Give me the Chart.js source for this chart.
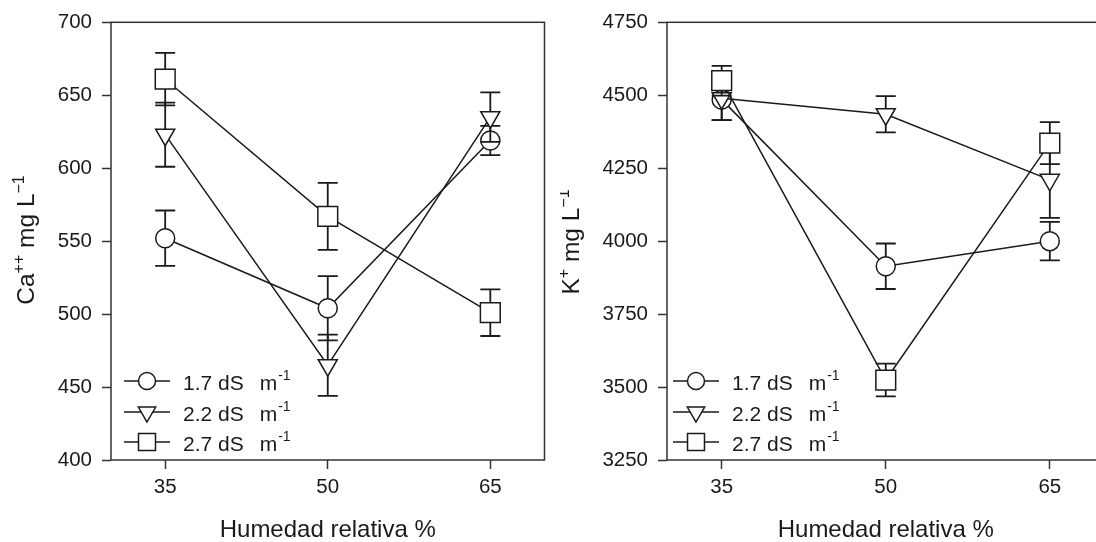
<!DOCTYPE html>
<html>
<head>
<meta charset="utf-8">
<script src="https://cdn.jsdelivr.net/npm/chart.js@4"></script>
<style>
  html, body { margin: 0; padding: 0; background: #fff; overflow: hidden; }
  #wrap { position: relative; width: 1096px; height: 542px; overflow: hidden; }
  canvas { position: absolute; top: 0; }
</style>
</head>
<body>
<div id="wrap">
  <canvas id="ca" width="560" height="542" style="left:0"></canvas>
  <canvas id="k" width="560" height="542" style="left:560px"></canvas>
</div>
<script>
// humedad relativa (%)
const humedad = [35, 50, 65];
const xTicks = [35, 50, 65];
const conductividad = ['1.7', '2.2', '2.7'];

// Ca++ mg/L
const ca17 = [552, 504, 619];
const ca22 = [623, 465, 635];
const ca27 = [661, 567, 501];
const ca17Err = [19, 22, 10];
const ca22Err = [22, 21, 17];
const ca27Err = [18, 23, 16];

// K+ mg/L
const k17 = [4485, 3914, 4000];
const k22 = [4490, 4435, 4210];
const k27 = [4550, 3524, 4336];
const k17Err = [70, 78, 66];
const k22Err = [75, 62, 130];
const k27Err = [51, 56, 72];

const FONT = '"Liberation Sans", Arial, sans-serif';
const INK = '#1a1a1a';
Chart.defaults.font.family = FONT;
Chart.defaults.color = INK;

const simbolos = [
    { pointStyle: 'circle', rotation: 0, radius: 9.5, legendRadius: 8.5 },
    { pointStyle: 'triangle', rotation: 180, radius: 11, legendRadius: 10 },
    { pointStyle: 'rect', rotation: 0, radius: 14, legendRadius: 12 }
];

function serie(valores, errores, i) {
    const s = simbolos[i];
    return {
        label: conductividad[i] + ' dS m-1',
        data: valores.map((v, j) => ({ x: humedad[j], y: v })),
        errores: errores,
        order: 3 - i,
        borderColor: INK,
        borderWidth: 1.5,
        backgroundColor: '#fff',
        pointStyle: s.pointStyle,
        rotation: s.rotation,
        pointRadius: s.radius,
        pointHoverRadius: s.radius,
        pointBorderWidth: 1.5,
        pointBorderColor: INK,
        pointBackgroundColor: '#fff',
        tension: 0,
        fill: false
    };
}

const errorBars = {
    id: 'errorBars',
    beforeDatasetDraw(chart, args) {
        const ds = chart.data.datasets[args.index];
        if (!ds.errores) return;
        const ctx = chart.ctx;
        const sx = chart.scales.x, sy = chart.scales.y;
        ctx.save();
        ctx.strokeStyle = INK;
        ctx.lineWidth = 1.8;
        ds.data.forEach((p, i) => {
            const e = ds.errores[i];
            const x = sx.getPixelForValue(p.x);
            const yt = sy.getPixelForValue(p.y + e);
            const yb = sy.getPixelForValue(p.y - e);
            ctx.beginPath();
            ctx.moveTo(x, yt); ctx.lineTo(x, yb);
            ctx.moveTo(x - 10, yt); ctx.lineTo(x + 10, yt);
            ctx.moveTo(x - 10, yb); ctx.lineTo(x + 10, yb);
            ctx.stroke();
        });
        ctx.restore();
    }
};

// marco, leyenda y titulo del eje y
function decorado(cfg) {
    return {
        id: 'decorado',
        afterDraw(chart) {
            const ctx = chart.ctx;
            const a = chart.chartArea;
            ctx.save();
            ctx.strokeStyle = '#333';
            ctx.lineWidth = 1.5;
            ctx.strokeRect(a.left, a.top, a.right - a.left, a.bottom - a.top);

            // leyenda
            const filas = [381, 412, 442];
            filas.forEach((y, i) => {
                ctx.strokeStyle = INK;
                ctx.lineWidth = 1.5;
                ctx.beginPath();
                ctx.moveTo(cfg.legX, y);
                ctx.lineTo(cfg.legX + 46, y);
                ctx.stroke();
                ctx.fillStyle = '#fff';
                Chart.helpers.drawPoint(ctx, {
                    pointStyle: simbolos[i].pointStyle,
                    rotation: simbolos[i].rotation,
                    radius: simbolos[i].legendRadius,
                    borderWidth: 1.5
                }, cfg.legX + 23, y);
                ctx.fillStyle = INK;
                ctx.textBaseline = 'alphabetic';
                ctx.textAlign = 'left';
                ctx.font = '21px ' + FONT;
                const tx = cfg.legX + 59;
                const base = y + 9;
                const t1 = conductividad[i] + ' dS';
                ctx.fillText(t1, tx, base);
                const mx = tx + ctx.measureText(t1).width + 16;
                ctx.fillText('m', mx, base);
                const sx = mx + ctx.measureText('m').width + 1;
                ctx.font = '14px ' + FONT;
                ctx.fillText('-1', sx, base - 10);
            });

            // titulo eje y con superindices
            ctx.translate(cfg.titX, cfg.titY);
            ctx.rotate(-Math.PI / 2);
            const partes = cfg.titulo;
            let ancho = 0;
            partes.forEach(p => {
                ctx.font = (p.sup ? '16px ' : '24.5px ') + FONT;
                ancho += ctx.measureText(p.t).width;
            });
            let x = -ancho / 2;
            ctx.fillStyle = INK;
            ctx.textAlign = 'left';
            ctx.textBaseline = 'alphabetic';
            partes.forEach(p => {
                ctx.font = (p.sup ? '16px ' : '24.5px ') + FONT;
                ctx.fillText(p.t, x, p.sup ? -10 : 0);
                x += ctx.measureText(p.t).width;
            });
            ctx.restore();
        }
    };
}

function opciones(yMin, yMax, yStep, yWidth, padRight) {
    return {
        responsive: false,
        animation: false,
        events: [],
        layout: { padding: { top: 21, right: padRight, bottom: 0, left: 0 } },
        plugins: { legend: { display: false }, tooltip: { enabled: false } },
        scales: {
            x: {
                type: 'linear',
                min: 30,
                max: 70,
                afterBuildTicks: axis => { axis.ticks = xTicks.map(v => ({ value: v })); },
                afterFit: axis => { axis.height = 82; },
                grid: { drawOnChartArea: false, drawTicks: true, tickLength: 9, tickWidth: 1.5, color: '#333' },
                border: { display: false },
                ticks: { font: { size: 20.5 }, padding: 6, color: INK, callback: v => String(v) },
                title: { display: true, text: 'Humedad relativa %', font: { size: 24, lineHeight: 1 }, padding: { top: 0, bottom: 0 }, color: INK }
            },
            y: {
                min: yMin,
                max: yMax,
                afterFit: axis => { axis.width = yWidth; },
                grid: { drawOnChartArea: false, drawTicks: true, tickLength: 9, tickWidth: 1.5, color: '#333' },
                border: { display: false },
                ticks: { stepSize: yStep, font: { size: 20.5 }, padding: 10, color: INK, callback: v => String(v) }
            }
        }
    };
}

new Chart(document.getElementById('ca'), {
    type: 'line',
    data: {
        datasets: [
            serie(ca17, ca17Err, 0),
            serie(ca22, ca22Err, 1),
            serie(ca27, ca27Err, 2)
        ]
    },
    options: opciones(400, 700, 50, 111, 9),
    plugins: [errorBars, decorado({
        legX: 124, titX: 34, titY: 240,
        titulo: [{ t: 'Ca' }, { t: '++', sup: true }, { t: ' mg L' }, { t: '\u22121', sup: true }]
    })]
});

new Chart(document.getElementById('k'), {
    type: 'line',
    data: {
        datasets: [
            serie(k17, k17Err, 0),
            serie(k22, k22Err, 1),
            serie(k27, k27Err, 2)
        ]
    },
    options: opciones(3250, 4750, 250, 107, 14),
    plugins: [errorBars, decorado({
        legX: 113, titX: 19, titY: 242,
        titulo: [{ t: 'K' }, { t: '+', sup: true }, { t: ' mg L' }, { t: '\u22121', sup: true }]
    })]
});
</script>
</body>
</html>
